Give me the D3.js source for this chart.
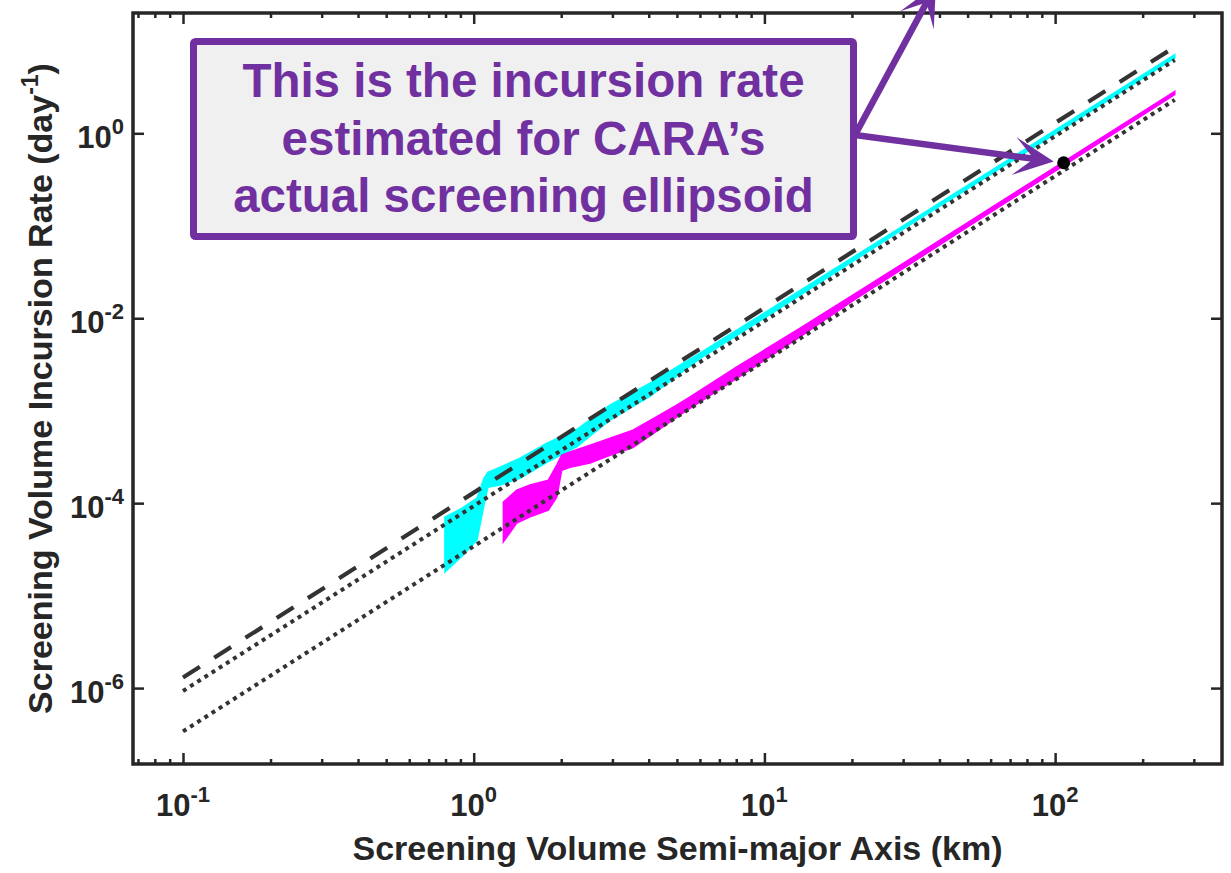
<!DOCTYPE html>
<html><head><meta charset="utf-8">
<script src="https://cdn.jsdelivr.net/npm/d3@7"></script>
<style>body{margin:0;background:#fff}svg{display:block}</style>
</head><body>
<svg id="c" width="1231" height="873"></svg>
<script>
// ---------- data ----------
const xMajor = [0.1, 1, 10, 100];
const xMajorExp = ["-1", "0", "1", "2"];
const xMinor = [0.07,0.08,0.09,0.2,0.3,0.4,0.5,0.6,0.7,0.8,0.9,2,3,4,5,6,7,8,9,20,30,40,50,60,70,80,90,200,300];
const yMajor = [1e-6, 1e-4, 1e-2, 1];
const yMajorExp = ["-6", "-4", "-2", "0"];

// cyan band (lower / upper bound)
const cyanX     = [0.796, 0.912, 1.026, 1.085, 1.119, 1.232, 1.443, 1.787, 2.266, 2.94, 4.04, 6.0, 10, 30, 100, 258];
const cyanUpper = [7.06e-5, 8.83e-5, 1.13e-4, 1.86e-4, 2.16e-4, 2.45e-4, 3.06e-4, 4.46e-4, 6.3e-4, 1.15e-3, 1.98e-3, 4.2e-3, 1.14e-2, 0.100, 1.08, 7.1];
const cyanLower = [1.80e-5, 2.67e-5, 3.98e-5, 9.5e-5, 1.49e-4, 1.57e-4, 1.86e-4, 2.77e-4, 4.1e-4, 7.9e-4, 1.43e-3, 3.66e-3, 1.00e-2, 0.092, 0.98, 6.5];

// magenta band
const magX     = [1.265, 1.406, 1.563, 1.806, 1.930, 2.008, 2.145, 2.512, 2.944, 3.53, 4.26, 4.99, 5.55, 8.03, 13.26, 20, 50, 100, 258];
const magUpper = [1.03e-4, 1.38e-4, 1.57e-4, 1.77e-4, 2.58e-4, 3.30e-4, 3.59e-4, 4.24e-4, 5.04e-4, 6.16e-4, 8.6e-4, 1.15e-3, 1.41e-3, 2.97e-3, 7.8e-3, 1.75e-2, 0.108, 0.43, 2.85];
const magLower = [3.82e-5, 6.08e-5, 7.11e-5, 8.4e-5, 1.16e-4, 2.27e-4, 2.45e-4, 2.71e-4, 3.30e-4, 4.0e-4, 6.0e-4, 8.5e-4, 1.06e-3, 2.23e-3, 6.28e-3, 1.52e-2, 0.097, 0.39, 2.62];

// reference lines (straight in log-log, two end points each)
const dashedLine  = [[0.1, 1.3e-6], [258, 8.6]];
const dottedUpper = [[0.1, 9.3e-7], [258, 6.2]];
const dottedLower = [[0.1, 3.4e-7], [258, 2.3]];

// CARA point
const caraPoint = [107, 0.48];

const boxLines = ["This is the incursion rate", "estimated for CARA\u2019s", "actual screening ellipsoid"];
const xLabel = "Screening Volume Semi-major Axis (km)";
const yLabelMain = "Screening Volume Incursion Rate (day";
const yLabelExp = "-1";

// ---------- layout ----------
const L = 133, R = 1222, T = 13, B = 764;
const txt = "#262626";
const purple = "#7030A0";
const font = "'Liberation Sans', Arial, sans-serif";

const svg = d3.select("#c");
const x = d3.scaleLog().domain([0.0673, 375]).range([L, R]);
const y = d3.scaleLog().domain([1.51e-7, 20]).range([B, T]);

// bands
const area = d3.area().x(d => x(d[0])).y0(d => y(d[1])).y1(d => y(d[2]));
svg.append("path").datum(cyanX.map((v,i)=>[v,cyanLower[i],cyanUpper[i]]))
  .attr("d", area).attr("fill", "#00FFFF").attr("stroke", "#00FFFF").attr("stroke-width", 1.5);
svg.append("path").datum(magX.map((v,i)=>[v,magLower[i],magUpper[i]]))
  .attr("d", area).attr("fill", "#FF00FF").attr("stroke", "#FF00FF").attr("stroke-width", 1.5);

// lines
const line = d3.line().x(d => x(d[0])).y(d => y(d[1]));
svg.append("path").datum(dashedLine).attr("d", line).attr("fill","none")
  .attr("stroke","#333").attr("stroke-width",4.2).attr("stroke-dasharray","20,17");
[dottedUpper, dottedLower].forEach(dl => {
  svg.append("path").datum(dl).attr("d", line).attr("fill","none")
    .attr("stroke","#333").attr("stroke-width",4).attr("stroke-dasharray","4,4.5");
});

// point
svg.append("circle").attr("cx", x(caraPoint[0])).attr("cy", y(caraPoint[1])).attr("r", 6.5).attr("fill","#000");

// axes
function styleAxis(g){ g.select(".domain").remove(); g.selectAll("line").attr("stroke", txt).attr("stroke-width", 2.5); }
svg.append("g").attr("transform",`translate(0,${B})`).call(d3.axisBottom(x).tickValues(xMajor).tickSizeInner(-11).tickSizeOuter(0).tickFormat("")).call(styleAxis);
svg.append("g").attr("transform",`translate(0,${B})`).call(d3.axisBottom(x).tickValues(xMinor).tickSizeInner(-5).tickSizeOuter(0).tickFormat("")).call(styleAxis);
svg.append("g").attr("transform",`translate(0,${T})`).call(d3.axisTop(x).tickValues(xMajor).tickSizeInner(-11).tickSizeOuter(0).tickFormat("")).call(styleAxis);
svg.append("g").attr("transform",`translate(0,${T})`).call(d3.axisTop(x).tickValues(xMinor).tickSizeInner(-5).tickSizeOuter(0).tickFormat("")).call(styleAxis);
svg.append("g").attr("transform",`translate(${L},0)`).call(d3.axisLeft(y).tickValues(yMajor).tickSizeInner(-11).tickSizeOuter(0).tickFormat("")).call(styleAxis);
svg.append("g").attr("transform",`translate(${R},0)`).call(d3.axisRight(y).tickValues(yMajor).tickSizeInner(-11).tickSizeOuter(0).tickFormat("")).call(styleAxis);

svg.append("rect").attr("x",L).attr("y",T).attr("width",R-L).attr("height",B-T)
  .attr("fill","none").attr("stroke",txt).attr("stroke-width",3.5);

// tick labels
const tickFs = 31, expFs = 22;
xMajor.forEach((v,i) => {
  const t = svg.append("text").attr("x", x(v)).attr("y", 816).attr("text-anchor","middle")
    .attr("font-family",font).attr("font-weight","bold").attr("font-size",tickFs).attr("fill",txt);
  t.append("tspan").text("10");
  t.append("tspan").attr("dy",-14).attr("font-size",expFs).text(xMajorExp[i]);
});
yMajor.forEach((v,i) => {
  const t = svg.append("text").attr("x", 124).attr("y", y(v)+15).attr("text-anchor","end")
    .attr("font-family",font).attr("font-weight","bold").attr("font-size",tickFs).attr("fill",txt);
  t.append("tspan").text("10");
  t.append("tspan").attr("dy",-14).attr("font-size",expFs).text(yMajorExp[i]);
});

// axis labels
svg.append("text").attr("x",(L+R)/2).attr("y",860).attr("text-anchor","middle")
  .attr("font-family",font).attr("font-weight","bold").attr("font-size",34).attr("fill",txt).text(xLabel);
const yl = svg.append("text").attr("transform",`translate(52,${(T+B)/2}) rotate(-90)`).attr("text-anchor","middle")
  .attr("font-family",font).attr("font-weight","bold").attr("font-size",34).attr("fill",txt);
yl.append("tspan").text(yLabelMain);
yl.append("tspan").attr("dy",-14).attr("font-size",23).text(yLabelExp);
yl.append("tspan").attr("dy",14).text(")");

// annotation box
const bx = 193.5, by = 41.5, bw = 660, bh = 195;
svg.append("rect").attr("x",bx).attr("y",by).attr("width",bw).attr("height",bh).attr("rx",2)
  .attr("fill","#F0F0F0").attr("stroke",purple).attr("stroke-width",7);
boxLines.forEach((s,i) => {
  svg.append("text").attr("x", bx+bw/2).attr("y", 97 + i*57.5).attr("text-anchor","middle")
    .attr("font-family",font).attr("font-weight","bold").attr("font-size",47.5).attr("fill",purple).text(s);
});

// arrows
function arrow(x0,y0,x1,y1){
  const dx=x1-x0, dy=y1-y0, len=Math.hypot(dx,dy), ux=dx/len, uy=dy/len, px=-uy, py=ux;
  const hl=40, hw=19, notch=20;
  const nx=x1-ux*notch, ny=y1-uy*notch;
  svg.append("line").attr("x1",x0).attr("y1",y0).attr("x2",nx+ux*2).attr("y2",ny+uy*2)
    .attr("stroke",purple).attr("stroke-width",6.5);
  const bxp=x1-ux*hl, byp=y1-uy*hl;
  svg.append("path").attr("d",`M${x1},${y1}L${bxp+px*hw},${byp+py*hw}L${nx},${ny}L${bxp-px*hw},${byp-py*hw}Z`)
    .attr("fill",purple);
}
const ax0 = 855, ay0 = 135;
arrow(ax0, ay0, 936, -15);
{
  const cx = x(caraPoint[0]), cy = y(caraPoint[1]);
  const dx = cx-ax0, dy = cy-ay0, len = Math.hypot(dx,dy);
  arrow(ax0, ay0, cx - dx/len*10, cy - dy/len*10);
}
</script>
</body></html>
